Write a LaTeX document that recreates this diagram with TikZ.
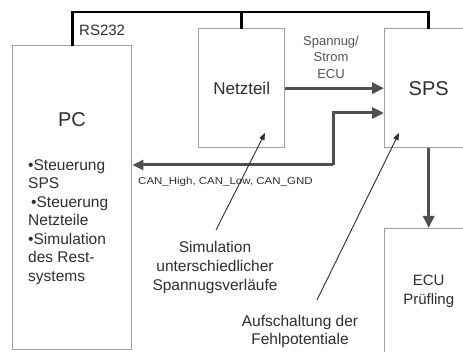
\documentclass[tikz,border=0pt]{standalone}
\usepackage{fontspec}
\setmainfont{Liberation Sans}
\usetikzlibrary{arrows.meta}
\definecolor{boxgray}{HTML}{A0A0A0}
\definecolor{arrowgray}{HTML}{505050}
\definecolor{txtgray}{HTML}{2E2E2E}
\definecolor{lightgray}{HTML}{555555}
\begin{document}
\begin{tikzpicture}[x=1pt,y=-1pt,
  box/.style={draw=boxgray,line width=1.4pt,fill=white,inner sep=0pt,anchor=north west,text=txtgray},
  lbl/.style={inner sep=0pt,text=txtgray,align=center},
  rsline/.style={draw=black,line width=2.8pt,line cap=rect},
  bigarrow/.style={draw=arrowgray,line width=3pt,-{Triangle[length=12pt,width=11pt]}},
  pointer/.style={draw=txtgray,line width=0.9pt,-{Triangle[length=7pt,width=5.5pt]}},
  fs/.style 2 args={font=\fontsize{#1}{#2}\selectfont}
]
\clip (0,0) rectangle (463,352);
\fill[white] (0,0) rectangle (463,352);

% boxes
\node[box,minimum width=119pt,minimum height=304pt] (pc) at (12,45) {};
\node[box,minimum width=86pt,minimum height=119pt,fs={17}{20}] (netz) at (198,28) {Netzteil};
\node[box,minimum width=88pt,minimum height=119pt,fs={20}{24}] (sps) at (384,28) {SPS};
\node[box,minimum width=88pt,minimum height=126pt,align=center,fs={15}{19}] (ecu) at (384,228) {ECU\\Prüfling};

% PC texts
\node[lbl,fs={20}{24}] (pctitle) at (72,120) {PC};
\node[lbl,align=left,anchor=north west,fs={15.5}{18.5}] (pclist) at (28,159)
  {•Steuerung\\SPS\\\hspace{3pt}•Steuerung\\Netzteile\\•Simulation\\des Rest-\\systems};

% RS232 line
\coordinate (rsL) at (pc.north |- 0,12);
\coordinate (rsR) at (sps.north |- 0,12);
\coordinate (rsN) at (netz.north |- 0,12);
\draw[rsline] (pc.north) -- (rsL) -- (rsR) -- (sps.north);
\draw[rsline] (rsN) -- (netz.north);
\node[lbl,fs={15}{18},anchor=west] (rs) at (79,30) {RS232};

% Netzteil -> SPS
\draw[bigarrow] (netz.east) -- (sps.west |- netz.east);
\node[lbl,text=lightgray,fs={13}{16.5}] (spg) at (331,57) {Spannug/\\Strom\\ECU};

% CAN bus
\coordinate (canA) at (333,113);
\coordinate (canB) at (333,165);
\draw[bigarrow] (canB) -- (canA) -- (sps.west |- canA);
\draw[draw=arrowgray,line width=3pt,-{Triangle[length=11pt,width=10pt]}] (canB) -- (pc.east |- canB);
\node[lbl,anchor=west,fs={10}{12}] (can) at (138,182) {\scalebox{1.15}[1]{CAN\_High, CAN\_Low, CAN\_GND}};

% SPS -> ECU
\draw[bigarrow] (sps.south) -- (ecu.north);

% annotations
\node[lbl,fs={15.5}{19}] (sim) at (215,267) {Simulation\\unterschiedlicher\\Spannugsverläufe};
\coordinate (simtip) at (216,230);
\coordinate (netzpt) at (265,133);
\draw[pointer] (simtip) -- (netzpt);

\node[lbl,fs={15.5}{18}] (auf) at (300,331) {Aufschaltung der\\Fehlpotentiale};
\coordinate (auftip) at (317,300);
\coordinate (spspt) at (399,133);
\draw[pointer] (auftip) -- (spspt);
\end{tikzpicture}
\end{document}
